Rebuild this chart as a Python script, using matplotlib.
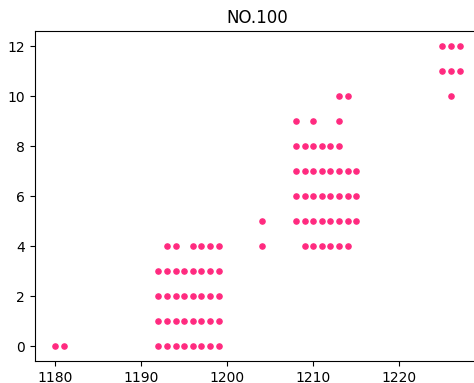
#散点图 - NO.100

import matplotlib
matplotlib.use('Agg')
import matplotlib.pyplot as plt

#数据

x = [1180, 1181,
     1192, 1193, 1194, 1195, 1196, 1197, 1198, 1199,
     1192, 1193, 1194, 1195, 1196, 1197, 1198, 1199,
     1192, 1193, 1194, 1195, 1196, 1197, 1198, 1199,
     1192, 1193, 1194, 1195, 1196, 1197, 1198, 1199,
     1193, 1194, 1196, 1197, 1198, 1199,
     1204, 1204,
     1209, 1210, 1211, 1212, 1213, 1214,
     1208, 1209, 1210, 1211, 1212, 1213, 1214, 1215,
     1208, 1209, 1210, 1211, 1212, 1213, 1214, 1215,
     1208, 1209, 1210, 1211, 1212, 1213, 1214, 1215,
     1208, 1209, 1210, 1211, 1212, 1213,
     1208, 1210, 1213,
     1213, 1214,
     1226,
     1225, 1226, 1227,
     1225, 1226, 1227]

y = [0, 0,
     0, 0, 0, 0, 0, 0, 0, 0,
     1, 1, 1, 1, 1, 1, 1, 1,
     2, 2, 2, 2, 2, 2, 2, 2,
     3, 3, 3, 3, 3, 3, 3, 3,
     4, 4, 4, 4, 4, 4,
     4, 5,
     4, 4, 4, 4, 4, 4,
     5, 5, 5, 5, 5, 5, 5, 5,
     6, 6, 6, 6, 6, 6, 6, 6,
     7, 7, 7, 7, 7, 7, 7, 7,
     8, 8, 8, 8, 8, 8,
     9, 9, 9,
     10, 10,
     10,
     11, 11, 11,
     12, 12, 12]

#绘图

fig = plt.figure(figsize=(4.74, 3.83), dpi=100)
ax = fig.add_axes([0.0735, 0.0574, 0.9386, 0.8616])
ax.scatter(x, y, s=14, color='#ff2a7f')
ax.set_xticks([1180, 1190, 1200, 1210, 1220])
ax.set_title('NO.100')

fig.savefig('out.png', dpi=100)
